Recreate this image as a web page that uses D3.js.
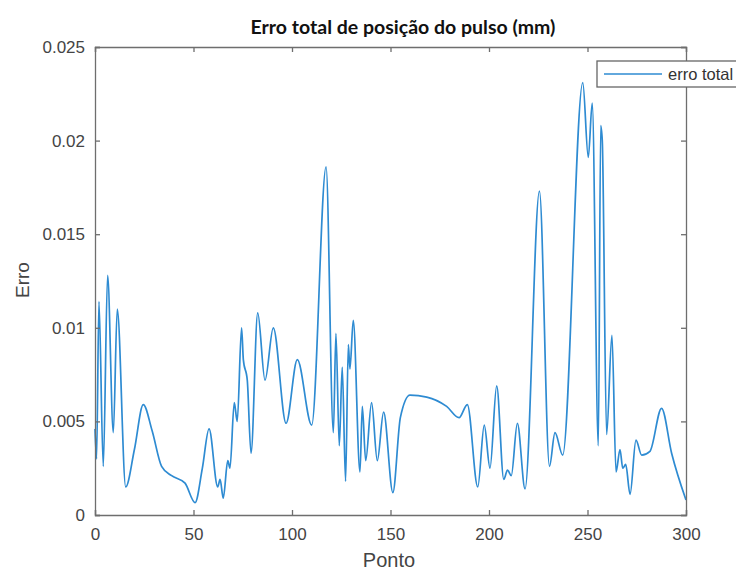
<!DOCTYPE html>
<html><head><meta charset="utf-8">
<script src="https://cdn.jsdelivr.net/npm/d3@7"></script>
<style>body{margin:0;background:#fff}svg{display:block}</style>
</head><body>
<svg id="c" width="736" height="571"></svg>
<script>
const chartTitle = "Erro total de posição do pulso (mm)";
const xLabel = "Ponto";
const yLabel = "Erro";
const seriesName = "erro total";
const xTicks = [0, 50, 100, 150, 200, 250, 300];
const yTicks = [0, 0.005, 0.01, 0.015, 0.02, 0.025];
const yTickLabels = ["0", "0.005", "0.01", "0.015", "0.02", "0.025"];

const ponto = [0, 0.8, 2, 4.2, 6.4, 9.3, 11.3, 15.6, 20, 24.5, 29, 33.8, 38.9, 45.7, 50.8, 54.5, 57.9, 62.3, 63.5, 65.1, 67.4, 68.5, 70.7, 72.2, 74.4, 75.3, 77.3, 79.2, 82.6, 86.3, 90.5, 97, 102.7, 110, 117.3, 121, 122.3, 124, 125.5, 127.2, 128.6, 129.4, 131.1, 134.5, 135.7, 137.4, 140.4, 143.3, 146.5, 151.2, 155, 159.9, 168.4, 178.5, 184.8, 189, 194.3, 197.6, 200.5, 203.9, 207.5, 209.4, 211.3, 214.4, 218.3, 225.6, 230.7, 233.5, 237.4, 247.6, 250.4, 252.4, 255.5, 256.7, 257.5, 259.7, 262.4, 264.5, 266.5, 267.9, 269.4, 271.6, 274.6, 277.5, 281.7, 287.6, 292.7, 300];
const erro = [0.0046, 0.003, 0.0114, 0.0026, 0.0128, 0.0044, 0.011, 0.0015, 0.0035, 0.0059, 0.0045, 0.0026, 0.0021, 0.0017, 0.00066, 0.0025, 0.0046, 0.0015, 0.0019, 0.0009, 0.0029, 0.0025, 0.006, 0.005, 0.01, 0.0083, 0.0072, 0.0033, 0.0108, 0.0072, 0.01, 0.0049, 0.0083, 0.0048, 0.0186, 0.0044, 0.0097, 0.0037, 0.0079, 0.0018, 0.0091, 0.0078, 0.0104, 0.0023, 0.0058, 0.0029, 0.006, 0.0029, 0.0055, 0.0012, 0.0052, 0.0064, 0.0063, 0.0058, 0.0052, 0.0059, 0.0015, 0.0048, 0.0025, 0.0069, 0.0019, 0.0024, 0.0021, 0.0049, 0.0014, 0.0173, 0.0026, 0.0044, 0.0032, 0.0231, 0.0191, 0.022, 0.0037, 0.0208, 0.02, 0.0043, 0.0096, 0.0023, 0.0035, 0.0025, 0.0027, 0.0011, 0.004, 0.0032, 0.0034, 0.0057, 0.0033, 0.0008];

const data = ponto.map((p, i) => ({x: p, y: erro[i]}));

const svg = d3.select("#c");
const m = {left: 95, right: 686, top: 47, bottom: 515};
const x = d3.scaleLinear().domain([0, 300]).range([m.left, m.right]);
const y = d3.scaleLinear().domain([0, 0.025]).range([m.bottom, m.top]);
const axisColor = "#6e6e6e";
const font = "'Liberation Sans', Arial, sans-serif";

// line
svg.append("path")
  .datum(data)
  .attr("fill", "none")
  .attr("stroke", "#2e8bd2")
  .attr("stroke-width", 1.7)
  .attr("stroke-linejoin", "round")
  .attr("d", d3.line().x(d => x(d.x)).y(d => y(d.y)).curve(d3.curveMonotoneX));

// axes (inward ticks on all sides)
const fmtY = d => yTickLabels[yTicks.indexOf(d)];
const gBottom = svg.append("g").attr("transform", `translate(0,${m.bottom})`)
  .call(d3.axisBottom(x).tickValues(xTicks).tickSize(-5).tickPadding(13));
const gTop = svg.append("g").attr("transform", `translate(0,${m.top})`)
  .call(d3.axisTop(x).tickValues(xTicks).tickSize(-5).tickFormat(""));
const gLeft = svg.append("g").attr("transform", `translate(${m.left},0)`)
  .call(d3.axisLeft(y).tickValues(yTicks).tickSize(-5).tickPadding(10).tickFormat(fmtY));
const gRight = svg.append("g").attr("transform", `translate(${m.right},0)`)
  .call(d3.axisRight(y).tickValues(yTicks).tickSize(-5).tickFormat(""));
[gBottom, gTop, gLeft, gRight].forEach(g => {
  g.selectAll(".domain").attr("stroke", axisColor).attr("stroke-width", 1.3);
  g.selectAll(".tick line").attr("stroke", axisColor).attr("stroke-width", 1.3);
  g.selectAll(".tick text").attr("fill", "#444").style("font-family", font).style("font-size", "17px");
});

// title
svg.append("text").attr("x", 403).attr("y", 34).attr("text-anchor", "middle")
  .style("font-family", "Lato, 'Open Sans', sans-serif").style("font-weight", "bold").style("font-size", "19.5px")
  .attr("fill", "#111").text(chartTitle);

// axis labels
svg.append("text").attr("x", 389).attr("y", 567).attr("text-anchor", "middle")
  .style("font-family", font).style("font-size", "20px").attr("fill", "#444").text(xLabel);
svg.append("text").attr("transform", "translate(29,280) rotate(-90)").attr("text-anchor", "middle")
  .style("font-family", font).style("font-size", "19px").attr("fill", "#444").text(yLabel);

// legend
const lg = svg.append("g");
lg.append("rect").attr("x", 597).attr("y", 61).attr("width", 160).attr("height", 26)
  .attr("fill", "#fff").attr("stroke", "#666").attr("stroke-width", 1.3);
lg.append("line").attr("x1", 604).attr("x2", 662).attr("y1", 74).attr("y2", 74)
  .attr("stroke", "#2e8bd2").attr("stroke-width", 1.7);
lg.append("text").attr("x", 668).attr("y", 80).style("font-family", font).style("font-size", "16.5px")
  .attr("fill", "#333").text(seriesName);
</script>
</body></html>
